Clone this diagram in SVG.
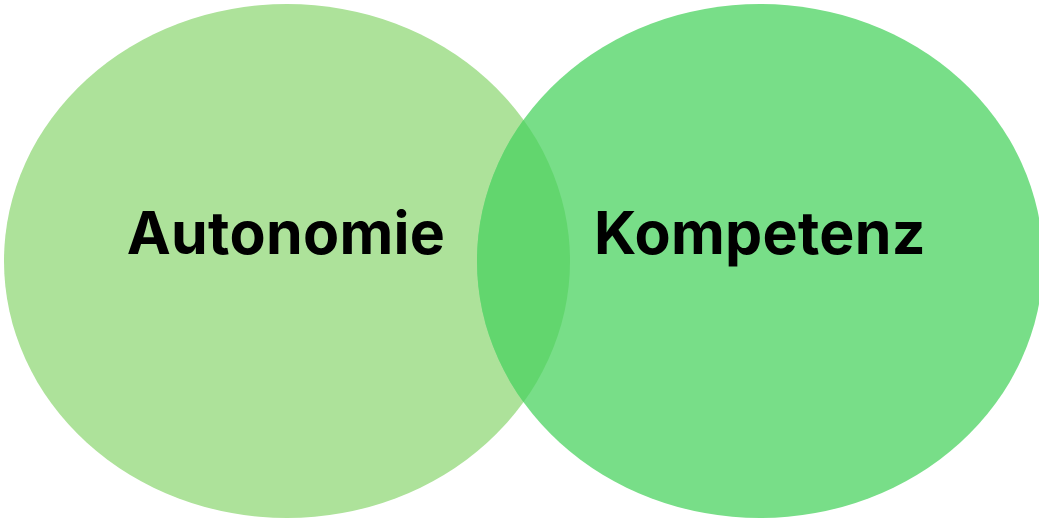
<svg xmlns="http://www.w3.org/2000/svg" width="1039" height="519" viewBox="0 0 1039 519">
<style>
.lbl{font-family:Inter,"Liberation Sans",sans-serif;font-weight:700;font-size:59px;letter-spacing:0.3px;fill:#000;text-anchor:middle}
</style>
<defs>
<clipPath id="clipL"><ellipse cx="287" cy="261" rx="283" ry="257"/></clipPath>
</defs>
<rect width="1039" height="519" fill="#fff"/>
<g id="autonomie">
<ellipse cx="287" cy="261" rx="283" ry="257" fill="#ADE29A"/>
</g>
<g id="kompetenz">
<ellipse cx="760" cy="261" rx="283" ry="257" fill="#78DE88"/>
</g>
<g id="overlap">
<ellipse cx="760" cy="261" rx="283" ry="257" fill="#62D66E" clip-path="url(#clipL)"/>
</g>
<g id="labels">
<text class="lbl" x="286" y="254">Autonomie</text>
<text class="lbl" x="760" y="254">Kompetenz</text>
</g>
<g id="connectors"/>
</svg>
